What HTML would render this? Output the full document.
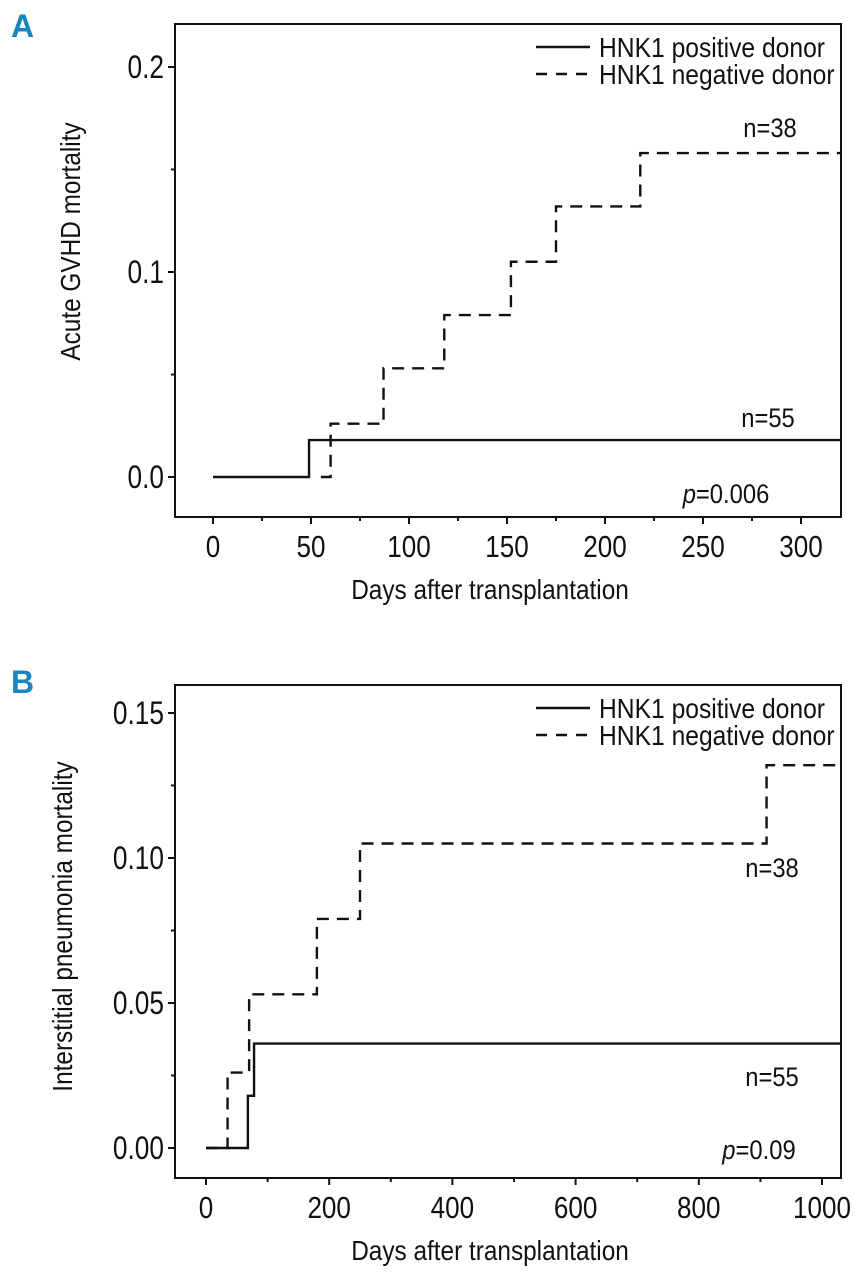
<!DOCTYPE html>
<html><head><meta charset="utf-8"><style>
html,body{margin:0;padding:0;background:#fff;}
svg{display:block;font-family:"Liberation Sans",sans-serif;}
</style></head><body>
<svg id="s" width="866" height="1280" viewBox="0 0 866 1280"></svg>
<script>
// Panel A data
const aPosX=[0,49,320];
const aPosY=[0,0.018,0.018];
const aNegX=[60,87,118,152,175,218,320];
const aNegY=[0,0.026,0.053,0.079,0.105,0.132,0.158];
const aXTicks=[0,50,100,150,200,250,300];
const aYTicks=[0.0,0.1,0.2];
const aYLabels=["0.0","0.1","0.2"];
// Panel B data
const bPosX=[0,68,78,1050];
const bPosY=[0,0.018,0.036,0.036];
const bNegX=[35,70,180,250,910,1050];
const bNegY=[0,0.026,0.053,0.079,0.105,0.132];
const bXTicks=[0,200,400,600,800,1000];
const bYTicks=[0,0.05,0.10,0.15];
const bYLabels=["0.00","0.05","0.10","0.15"];

const NS="http://www.w3.org/2000/svg";
const svg=document.getElementById('s');
function mk(tag,attrs,parent){const e=document.createElementNS(NS,tag);for(const k in attrs)e.setAttribute(k,attrs[k]);(parent||svg).appendChild(e);return e;}
function txt(str,x,y,size,anchor,name,parent,extra,f){
  const t=mk('text',Object.assign({x:x,y:y,'font-size':size,'text-anchor':anchor,fill:'#111'},extra||{}),parent);
  t.textContent=str;
  
  
  const L=t.getComputedTextLength();
  t.setAttribute('textLength',(L*(f||0.88)).toFixed(1));
  t.setAttribute('lengthAdjust','spacingAndGlyphs');
  return t;
}
function panel(cfg){
  const g=mk('g',{});
  
  
  const {L,T,R,B}=cfg.box;
  const sx=v=>cfg.x0+v*cfg.xk;
  const sy=v=>cfg.y0-v*cfg.yk;
  const box=mk('rect',{x:L,y:T,width:R-L,height:B-T,fill:'none',stroke:'#111','stroke-width':2},g);
  
  
  cfg.xTicks.forEach(v=>{
    const l=mk('line',{x1:sx(v),x2:sx(v),y1:B,y2:B+7,stroke:'#111','stroke-width':2},g);
    
    
    txt(String(v),sx(v),B+40,31,'middle','x-tick-label',g,null,0.84);
  });
  for(let v=cfg.xMinorStart;v<=cfg.xMax;v+=cfg.xMinor){
    const l=mk('line',{x1:sx(v),x2:sx(v),y1:B,y2:B+4,stroke:'#111','stroke-width':2},g);
    
    
  }
  cfg.yTicks.forEach((v,i)=>{
    const l=mk('line',{x1:L-7,x2:L,y1:sy(v),y2:sy(v),stroke:'#111','stroke-width':2},g);
    
    
    txt(cfg.yLabels[i],L-11,sy(v)+11,32,'end','y-tick-label',g,null,0.82);
  });
  cfg.yMinor.forEach(v=>{
    const l=mk('line',{x1:L-4,x2:L,y1:sy(v),y2:sy(v),stroke:'#111','stroke-width':2},g);
    
    
  });
  txt('Days after transplantation',(L+R)/2-18,B+82,28,'middle','x-axis-title',g,null,0.87);
  txt(cfg.yTitle,0,0,28,'middle','y-axis-title',g,{transform:`translate(${cfg.yTitleX},${(T+B)/2+cfg.yTitleDy}) rotate(-90)`},0.87);
  let d=`M${sx(cfg.posX[0])},${sy(cfg.posY[0])}`;
  for(let i=1;i<cfg.posX.length;i++){d+=` H${sx(cfg.posX[i])} V${sy(cfg.posY[i])}`;}
  const pp=mk('path',{d:d,fill:'none',stroke:'#111','stroke-width':2.4},g);
  
  
  const nx=cfg.negX,ny=cfg.negY;
  d=`M${sx(cfg.negStart)},${sy(ny[0])} H${sx(nx[0])}`;
  for(let i=1;i<nx.length;i++){d+=` V${sy(ny[i])} H${sx(nx[i])}`;}
  const p=mk('path',{d:d,fill:'none',stroke:'#111','stroke-width':2.4,'stroke-dasharray':'12,8'},g);
  
  
  const c=mk('rect',{x:R+1,y:T-5,width:40,height:B-T+10,fill:'#fff'},g);
  
  
  const lg=mk('g',{},g);
  
  
  let l1=mk('line',{x1:536,x2:590,y1:T+23,y2:T+23,stroke:'#111','stroke-width':2.4},lg);
  
  
  txt('HNK1 positive donor',599,T+33,28,'start','legend-entry-positive',lg,null,0.88);
  let l2=mk('line',{x1:536,x2:590,y1:T+50,y2:T+50,stroke:'#111','stroke-width':2.4,'stroke-dasharray':'11,9'},lg);
  
  
  txt('HNK1 negative donor',599,T+60,28,'start','legend-entry-negative',lg,null,0.88);
  cfg.notes.forEach(n=>{ txt(n[0],n[1],n[2],27,'middle',n[3],g,null,0.88); });
  const pv=mk('text',{x:cfg.pPos[0],y:cfg.pPos[1],'font-size':27,'text-anchor':'middle',fill:'#111'},g);
  pv.innerHTML='<tspan font-style="italic">p</tspan>='+cfg.pVal;
  
  
  pv.setAttribute('textLength',(pv.getComputedTextLength()*0.88).toFixed(1));
  pv.setAttribute('lengthAdjust','spacingAndGlyphs');
  const lab=mk('text',{x:cfg.letter[1],y:cfg.letter[2],'font-size':32,'font-weight':'bold',fill:'#1a86c0'},g);
  lab.textContent=cfg.letter[0];
  
  
}
panel({name:'panel-a',box:{L:175,T:24,R:841,B:517},x0:213,xk:98/50,y0:477,yk:2050,
  xTicks:aXTicks,xMinor:50,xMinorStart:25,xMax:325,yTicks:aYTicks,yLabels:aYLabels,yMinor:[0.05,0.15],
  yTitle:'Acute GVHD mortality',yTitleX:80,yTitleDy:-29,posX:aPosX,posY:aPosY,negX:aNegX,negY:aNegY,negStart:55,
  notes:[['n=38',770,137,'n-label-negative'],['n=55',768,427,'n-label-positive']],pPos:[726,503],pVal:'0.006',letter:['A',11,37]});
panel({name:'panel-b',box:{L:175,T:685,R:841,B:1178},x0:206,xk:616/1000,y0:1148,yk:2900,
  xTicks:bXTicks,xMinor:200,xMinorStart:100,xMax:1050,yTicks:bYTicks,yLabels:bYLabels,yMinor:[0.025,0.075,0.125],
  yTitle:'Interstitial pneumonia mortality',yTitleX:72,yTitleDy:-5,posX:bPosX,posY:bPosY,negX:bNegX,negY:bNegY,negStart:0,
  notes:[['n=38',772,877,'n-label-negative'],['n=55',772,1086,'n-label-positive']],pPos:[759,1159],pVal:'0.09',letter:['B',11,693]});
</script>
</body></html>
